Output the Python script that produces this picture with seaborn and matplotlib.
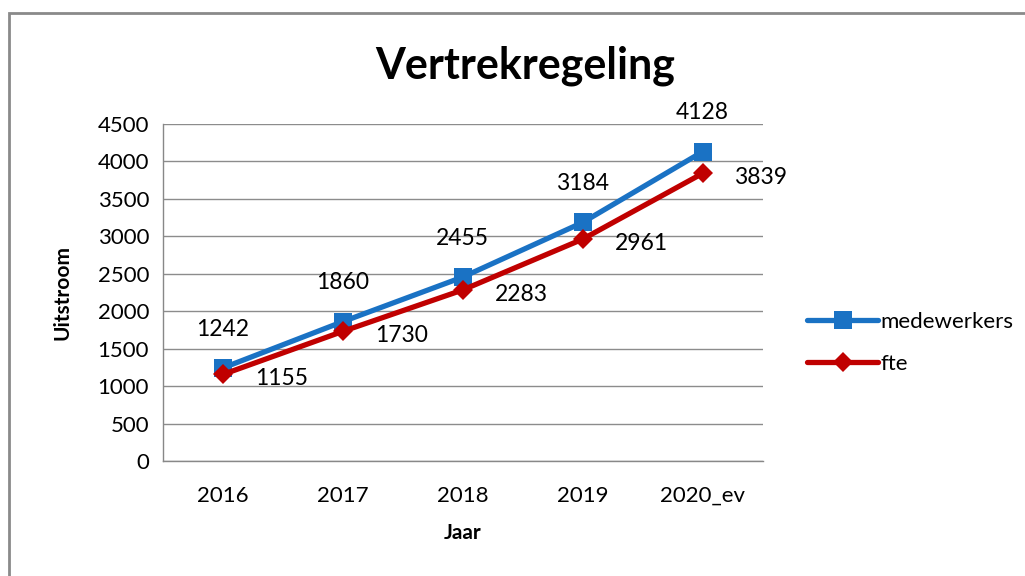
import matplotlib
matplotlib.use("Agg")
import matplotlib.pyplot as plt
import numpy as np
import pandas as pd
import seaborn as sns
from matplotlib.patches import Rectangle

# data
jaren = ["2016", "2017", "2018", "2019", "2020_ev"]
medewerkers = [1242, 1860, 2455, 3184, 4128]
fte = [1155, 1730, 2283, 2961, 3839]

df = pd.DataFrame({"Jaar": jaren, "medewerkers": medewerkers, "fte": fte})

sns.set_style("white")
plt.rcParams["font.family"] = ["Lato", "DejaVu Sans"]
plt.rcParams["text.color"] = "black"
plt.rcParams["axes.labelcolor"] = "black"
plt.rcParams["xtick.color"] = "black"
plt.rcParams["ytick.color"] = "black"

blauw = "#1A72C4"
rood = "#C00000"

fig = plt.figure(figsize=(10.25, 5.76), dpi=100)
ax = fig.add_axes([0.159, 0.1997, 0.585, 0.5853])

sns.lineplot(data=df, x="Jaar", y="medewerkers", ax=ax, color=blauw, lw=3.8,
             marker="s", markersize=13, markeredgewidth=0, label="medewerkers",
             sort=False)
sns.lineplot(data=df, x="Jaar", y="fte", ax=ax, color=rood, lw=3.8,
             marker="D", markersize=10, markeredgewidth=0, label="fte",
             sort=False)

# data labels
for i, (m, f) in enumerate(zip(medewerkers, fte)):
    ax.annotate(str(m), (i, m), xytext=(0, 28), textcoords="offset points",
                ha="center", va="center", fontsize=16.5)
    ax.annotate(str(f), (i, f), xytext=(42, -3), textcoords="offset points",
                ha="center", va="center", fontsize=16.5)

ax.set_xlim(-0.5, 4.5)
ax.set_ylim(0, 4500)
ax.set_yticks(np.arange(0, 4501, 500))
ax.set_xticks(range(len(jaren)))
ax.set_xticklabels(jaren)
ax.set_xticks(np.arange(-0.5, 4.6, 1), minor=True)
ax.tick_params(axis="x", which="major", length=0, pad=18, labelsize=16)
ax.tick_params(axis="x", which="minor", length=6, color="#888888", width=1)
ax.tick_params(axis="y", length=6, color="#888888", width=1, labelsize=16,
               pad=4, labelcolor="black")
ax.yaxis.grid(True, color="#8c8c8c", lw=1)
ax.set_axisbelow(True)
for s in ["top", "right"]:
    ax.spines[s].set_visible(False)
for s in ["left", "bottom"]:
    ax.spines[s].set_color("#888888")
    ax.spines[s].set_linewidth(1)

ax.set_xlabel("Jaar", fontsize=15, fontweight="bold", labelpad=12)
ax.set_ylabel("Uitstroom", fontsize=15, fontweight="bold", labelpad=18)

fig.text(0.512, 0.885, "Vertrekregeling", ha="center", va="center",
         fontsize=31, fontweight="bold")

ax.legend(loc="center left", bbox_to_anchor=(0.768, 0.405),
          bbox_transform=fig.transFigure, frameon=False, fontsize=16,
          handlelength=3.2, handletextpad=0.1, labelspacing=1.0)

# outer chart border
fig.patches.append(Rectangle((0.009, -0.05), 1.1, 1.027, transform=fig.transFigure,
                             fill=False, edgecolor="#8a8a8a", lw=2))

fig.savefig("out.png", dpi=100)
